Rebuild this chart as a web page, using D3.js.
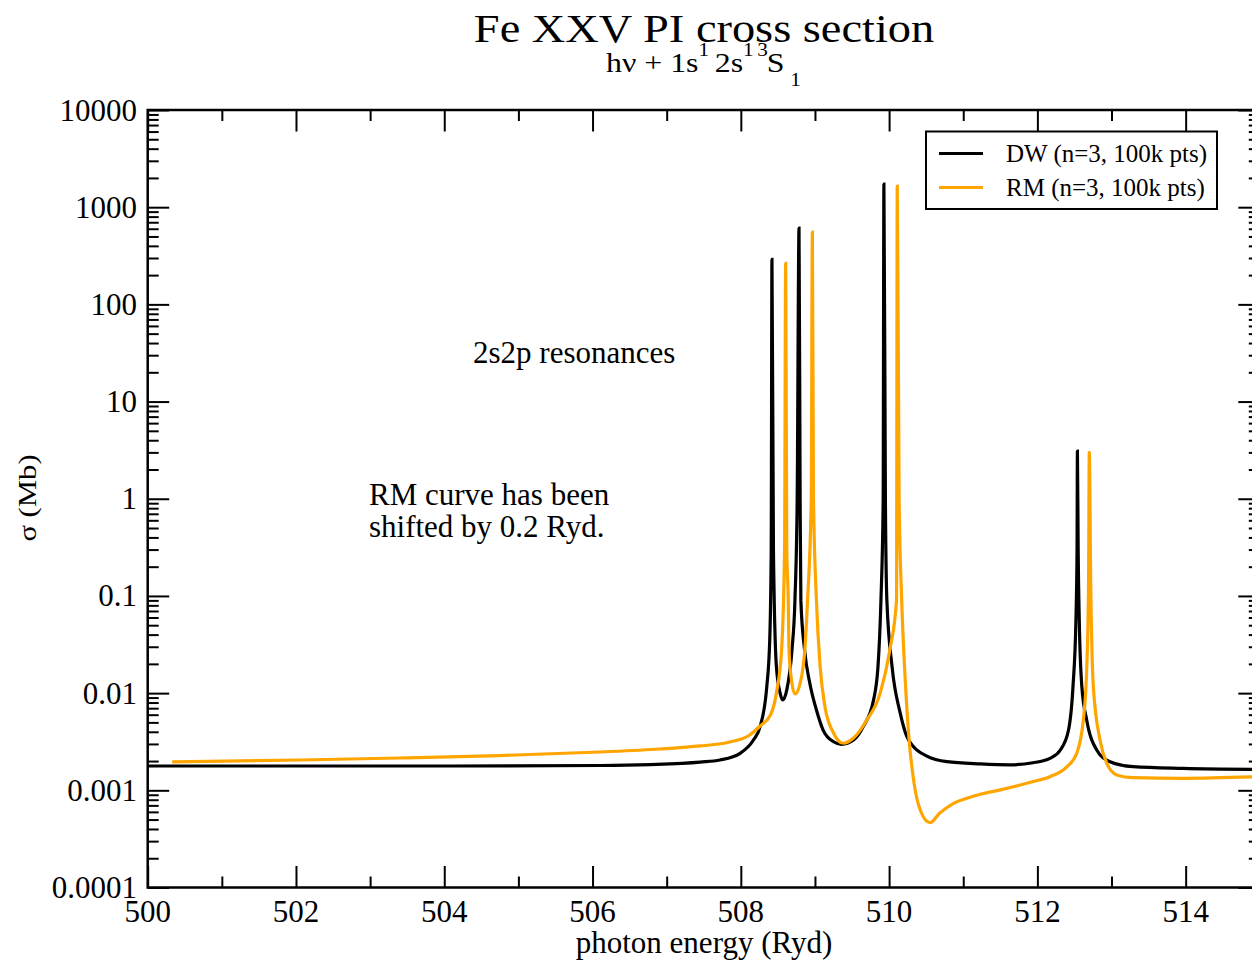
<!DOCTYPE html>
<html>
<head>
<meta charset="utf-8">
<script src="https://cdn.jsdelivr.net/npm/d3@7"></script>
<style>
  html, body { margin: 0; padding: 0; background: #fff; }
  svg { display: block; }
  text { font-family: "Liberation Serif", "Times New Roman", serif; fill: #000; }
</style>
</head>
<body>
<svg id="chart" width="1252" height="962"></svg>
<script>
// Fe XXV photoionization cross section, 1s 2s 3S1 initial state
const xTickValues = [500, 502, 504, 506, 508, 510, 512, 514];
const yTickValues = [1e-4, 1e-3, 1e-2, 1e-1, 1, 10, 100, 1000, 10000];
const yTickLabels = ["0.0001", "0.001", "0.01", "0.1", "1", "10", "100", "1000", "10000"];
const seriesNames = ["DW (n=3, 100k pts)", "RM (n=3, 100k pts)"];

// Distorted-wave curve: photon energy (Ryd) and cross section (Mb)
const dwEnergy = [500.00, 502.06, 504.08, 506.10, 506.78, 507.45, 507.72, 507.99, 508.17, 508.26, 508.35,
  508.39, 508.41, 508.42, 508.44, 508.48, 508.53, 508.565, 508.62, 508.69, 508.73,
  508.76, 508.785, 508.80, 508.81, 508.86, 508.93, 509.02, 509.11, 509.25, 509.36,
  509.52, 509.65, 509.79, 509.85, 509.89, 509.92, 509.93, 509.95, 509.97, 510.04,
  510.15, 510.24, 510.33, 510.51, 510.78, 511.23, 511.63, 511.94, 512.17, 512.31,
  512.42, 512.48, 512.52, 512.535, 512.54, 512.55, 512.565, 512.60, 512.665, 512.80,
  512.98, 513.29, 513.97, 515.00];
const dwSigma = [0.00178, 0.00178, 0.00178, 0.00180, 0.00184, 0.00195, 0.00205, 0.00240, 0.00329, 0.00451, 0.0116,
  0.0352, 0.30, 290, 0.30, 0.0187, 0.0100, 0.0085, 0.0108, 0.0278, 0.0908,
  0.97, 610, 1.0, 0.09, 0.0278, 0.0127, 0.0067, 0.00417, 0.00316, 0.00297,
  0.00329, 0.00451, 0.0085, 0.0187, 0.0908, 0.97, 1730, 1.0, 0.09, 0.0187,
  0.00624, 0.00356, 0.00281, 0.00225, 0.00197, 0.00187, 0.00183, 0.00192, 0.00213, 0.00260,
  0.00417, 0.0116, 0.0565, 0.30, 3.1, 0.30, 0.0565, 0.0116, 0.00529, 0.00260,
  0.00197, 0.00175, 0.00168, 0.00164];

// R-matrix curve (shifted by 0.2 Ryd): photon energy (Ryd) and cross section (Mb)
const rmEnergy = [500.33, 502.05, 503.40, 504.75, 506.10, 506.91, 507.45, 507.85, 508.12, 508.26, 508.40,
  508.48, 508.55, 508.59, 508.605, 508.62, 508.64, 508.65, 508.69, 508.73, 508.80,
  508.87, 508.90, 508.95, 508.965, 508.98, 509.02, 509.07, 509.135, 509.25, 509.38,
  509.52, 509.70, 509.88, 510.01, 510.10, 510.11, 510.135, 510.17, 510.22, 510.27,
  510.33, 510.42, 510.55, 510.68, 510.87, 511.05, 511.23, 511.50, 511.945, 512.17,
  512.40, 512.53, 512.62, 512.665, 512.69, 512.70, 512.72, 512.755, 512.845, 512.935,
  513.07, 513.29, 513.97, 515.00];
const rmSigma = [0.00196, 0.00205, 0.00215, 0.00228, 0.00248, 0.00266, 0.00286, 0.00314, 0.00371, 0.00459, 0.00595,
  0.0100, 0.0278, 0.30, 264, 0.30, 0.09, 0.0278, 0.0126, 0.0098, 0.0126,
  0.0328, 0.09, 1.0, 554, 1.0, 0.09, 0.0187, 0.00725, 0.00389, 0.00305,
  0.00345, 0.00529, 0.0100, 0.0278, 0.09, 1650, 1.0, 0.09, 0.0127, 0.00329,
  0.00128, 0.000627, 0.000464, 0.000580, 0.000735, 0.000828, 0.000910, 0.00101, 0.00123, 0.00138,
  0.00175, 0.00240, 0.00529, 0.0173, 0.124, 3.0, 0.124, 0.0116, 0.00329, 0.00190,
  0.00144, 0.00135, 0.00133, 0.00138];

const svg = d3.select("#chart");
const plotLeft = 147.7, plotRight = 1259.8, plotTop = 110, plotBottom = 887.5;

const x = d3.scaleLinear().domain([500, 515]).range([plotLeft, plotRight]);
const y = d3.scaleLog().domain([1e-4, 1e4]).range([plotBottom, plotTop]);

// Curves, clipped to the frame
svg.append("clipPath").attr("id", "plotClip")
  .append("rect").attr("x", plotLeft).attr("y", plotTop)
  .attr("width", plotRight - plotLeft).attr("height", plotBottom - plotTop);

const line = d3.line().x(d => x(d[0])).y(d => y(d[1])).curve(d3.curveMonotoneX);
const curves = [
  { e: dwEnergy, s: dwSigma, color: "#000000" },
  { e: rmEnergy, s: rmSigma, color: "#ffa500" }
];
const plot = svg.append("g").attr("clip-path", "url(#plotClip)");
curves.forEach(c => {
  plot.append("path")
    .datum(c.e.map((v, i) => [v, c.s[i]]))
    .attr("d", line)
    .attr("fill", "none")
    .attr("stroke", c.color)
    .attr("stroke-width", 3.2)
    .attr("stroke-linejoin", "miter")
    .attr("stroke-miterlimit", 2);
});

// Frame
svg.append("rect")
  .attr("x", plotLeft).attr("y", plotTop)
  .attr("width", plotRight - plotLeft).attr("height", plotBottom - plotTop)
  .attr("fill", "none").attr("stroke", "#000").attr("stroke-width", 2.5);

// Ticks: inward on all four sides
const xMinor = d3.range(501, 515, 2);
const yMinor = [];
for (let k = -4; k < 4; k++) for (let m = 2; m <= 9; m++) yMinor.push(m * Math.pow(10, k));

const majorLen = 21.5, minorLen = 11;
function tickAxis(gen, values, size) {
  return gen.tickValues(values).tickSize(size).tickFormat("");
}
const axes = svg.append("g").attr("class", "ticks");
axes.append("g").attr("transform", `translate(0,${plotBottom})`).call(tickAxis(d3.axisTop(x), xTickValues, majorLen));
axes.append("g").attr("transform", `translate(0,${plotBottom})`).call(tickAxis(d3.axisTop(x), xMinor, minorLen));
axes.append("g").attr("transform", `translate(0,${plotTop})`).call(tickAxis(d3.axisBottom(x), xTickValues, majorLen));
axes.append("g").attr("transform", `translate(0,${plotTop})`).call(tickAxis(d3.axisBottom(x), xMinor, minorLen));
axes.append("g").attr("transform", `translate(${plotLeft},0)`).call(tickAxis(d3.axisRight(y), yTickValues, majorLen));
axes.append("g").attr("transform", `translate(${plotLeft},0)`).call(tickAxis(d3.axisRight(y), yMinor, minorLen));
axes.append("g").attr("transform", `translate(${plotRight},0)`).call(tickAxis(d3.axisLeft(y), yTickValues, majorLen));
axes.append("g").attr("transform", `translate(${plotRight},0)`).call(tickAxis(d3.axisLeft(y), yMinor, minorLen));
axes.selectAll(".domain").remove();
axes.selectAll(".tick line").attr("stroke", "#000").attr("stroke-width", 2);

// Tick labels
svg.append("g").selectAll("text").data(xTickValues).join("text")
  .attr("x", d => x(d)).attr("y", 921.5)
  .attr("text-anchor", "middle").attr("font-size", 31)
  .text(d => d);
svg.append("g").selectAll("text").data(yTickValues).join("text")
  .attr("x", 137).attr("y", d => y(d) + 10.5)
  .attr("text-anchor", "end").attr("font-size", 31)
  .text((d, i) => yTickLabels[i]);

// Axis titles
svg.append("text").attr("x", 704).attr("y", 953)
  .attr("text-anchor", "middle").attr("font-size", 31)
  .text("photon energy (Ryd)");
svg.append("text").attr("transform", "translate(36,498) rotate(-90) scale(1.18,1)")
  .attr("text-anchor", "middle").attr("font-size", 26)
  .text("σ (Mb)");

// Title and subtitle
svg.append("text").attr("transform", "translate(704,42) scale(1.16,1)")
  .attr("text-anchor", "middle").attr("font-size", 40)
  .text("Fe XXV PI cross section");

const sub = svg.append("text").attr("transform", "translate(606,72) scale(1.18,1)")
  .attr("font-size", 27);
sub.append("tspan").text("hν + 1s");
sub.append("tspan").attr("font-size", 18).attr("dy", -16).text("1");
sub.append("tspan").attr("dy", 16).attr("dx", -2).text(" 2s");
sub.append("tspan").attr("font-size", 18).attr("dy", -16).text("1");
sub.append("tspan").attr("font-size", 18).attr("dx", 3).text("3");
sub.append("tspan").attr("dy", 16).attr("dx", -1).text("S");
sub.append("tspan").attr("font-size", 18).attr("dy", 14).attr("dx", 5).text("1");

// Annotations
svg.append("text").attr("x", 473).attr("y", 363).attr("font-size", 31)
  .text("2s2p resonances");
svg.append("text").attr("x", 369).attr("y", 505).attr("font-size", 31)
  .text("RM curve has been");
svg.append("text").attr("x", 369).attr("y", 537).attr("font-size", 31)
  .text("shifted by 0.2 Ryd.");

// Legend
const lg = svg.append("g");
lg.append("rect").attr("x", 926).attr("y", 131.5).attr("width", 291).attr("height", 77.5)
  .attr("fill", "#fff").attr("stroke", "#000").attr("stroke-width", 2);
const legendY = [153.5, 187.5];
seriesNames.forEach((name, i) => {
  lg.append("line").attr("x1", 939).attr("x2", 983)
    .attr("y1", legendY[i]).attr("y2", legendY[i])
    .attr("stroke", curves[i].color).attr("stroke-width", 3.2);
  lg.append("text").attr("x", 1006).attr("y", legendY[i] + 8.5)
    .attr("font-size", 25).text(name);
});
</script>
</body>
</html>
